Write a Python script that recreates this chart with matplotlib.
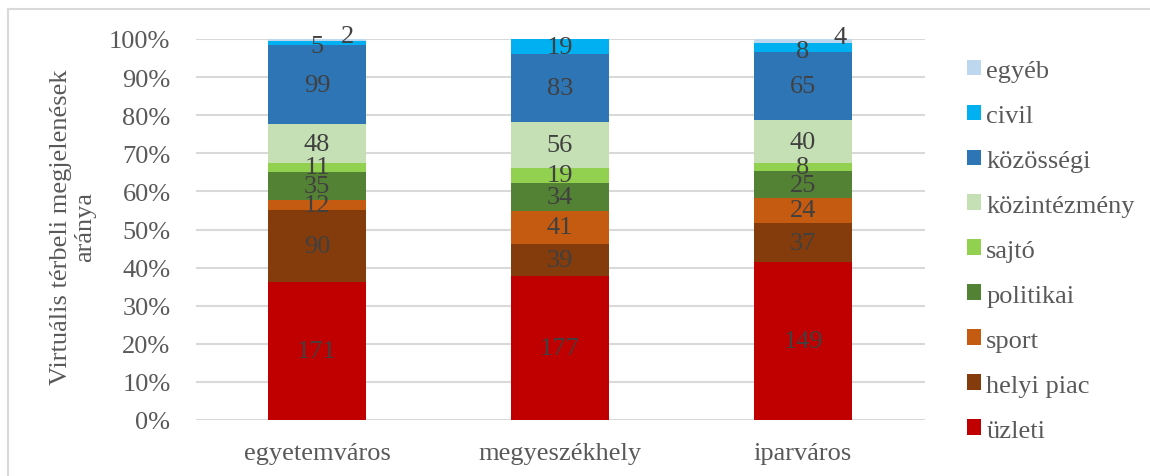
import matplotlib
matplotlib.use("Agg")
import matplotlib.pyplot as plt
from matplotlib.lines import Line2D
from matplotlib.patches import Patch
import numpy as np

plt.rcParams['font.family'] = ['Liberation Serif', 'DejaVu Serif']

categories = ["egyetemváros", "megyeszékhely", "iparváros"]
series_names = ["üzleti", "helyi piac", "sport", "politikai", "sajtó",
                "közintézmény", "közösségi", "civil", "egyéb"]
uzleti = [171, 177, 149]
helyi_piac = [90, 39, 37]
sport = [12, 41, 24]
politikai = [35, 34, 25]
sajto = [11, 19, 8]
kozintezmeny = [48, 56, 40]
kozossegi = [99, 83, 65]
civil = [5, 19, 8]
egyeb = [2, 0, 4]
yticks = [0, 10, 20, 30, 40, 50, 60, 70, 80, 90, 100]

series = [uzleti, helyi_piac, sport, politikai, sajto,
          kozintezmeny, kozossegi, civil, egyeb]
colors = ["#C00000", "#843C0C", "#C55A11", "#548235", "#92D050",
          "#C5E0B4", "#2E75B6", "#00B0F0", "#BDD7EE"]

data = np.array(series, dtype=float)
totals = data.sum(axis=0)
pct = data / totals * 100

FS = 19
fig = plt.figure(figsize=(11.5, 4.77), dpi=100)
ax = fig.add_axes([195.5 / 1150, 56 / 477, (924.5 - 195.5) / 1150, (421 - 40) / 477])

x = np.arange(len(categories))
label_color = "#404040"
# pixel nudges for the thin top segments so their labels don't collide
small_offsets = {"civil": [(0, -3), (0, 0), (0, -4)],
                 "egyéb": [(30, 4), (0, 0), (37, 4)]}
bottom = np.zeros(len(categories))
for si, (name, vals, col) in enumerate(zip(series_names, pct, colors)):
    ax.bar(x, vals, bottom=bottom, width=0.4, color=col, zorder=2)
    for ci in range(len(categories)):
        raw = data[si, ci]
        if raw == 0:
            continue
        yc = bottom[ci] + vals[ci] / 2
        dx, dy = 0, 0
        if name in small_offsets and raw < 10:
            dx, dy = small_offsets[name][ci]
        ax.annotate(f"{int(raw)}", (x[ci], yc), xytext=(dx * 0.72, dy * 0.72),
                    textcoords="offset points", ha="center", va="center",
                    fontsize=FS, color=label_color, zorder=3)
    bottom += vals

ax.set_xlim(-0.5, 2.5)
ax.set_ylim(0, 100)
ax.set_yticks(yticks)
ax.set_yticklabels([f"{t}%" for t in yticks])
ax.set_xticks(x)
ax.set_xticklabels(categories)
ax.tick_params(axis="both", length=0, labelsize=FS, colors="#595959")
ax.tick_params(axis="y", pad=18)
ax.tick_params(axis="x", pad=16)
ax.yaxis.grid(True, color="#D9D9D9", linewidth=1.5, zorder=0)
for s in ax.spines.values():
    s.set_visible(False)

fig.text(73 / 1150, 1 - 227 / 477, "Virtuális térbeli megjelenések\naránya",
         rotation=90, ha="center", va="center", fontsize=FS, color="#595959",
         linespacing=1.15)

handles = [Patch(facecolor=c, edgecolor="none") for c in colors][::-1]
leg = fig.legend(handles, series_names[::-1], loc="upper left",
                 bbox_to_anchor=(956 / 1150, 1 - 50 / 477), frameon=False,
                 fontsize=FS, labelcolor="#595959", handlelength=0.55,
                 handleheight=0.55, handletextpad=0.2, labelspacing=0.86,
                 borderaxespad=0)

fig.add_artist(Line2D([8 / 1150, 8 / 1150], [0, 1 - 10 / 477],
                      transform=fig.transFigure, color="#D9D9D9", linewidth=1.5))
fig.add_artist(Line2D([8 / 1150, 1], [1 - 10 / 477, 1 - 10 / 477],
                      transform=fig.transFigure, color="#D9D9D9", linewidth=1.5))

fig.savefig("out.png", dpi=100)
